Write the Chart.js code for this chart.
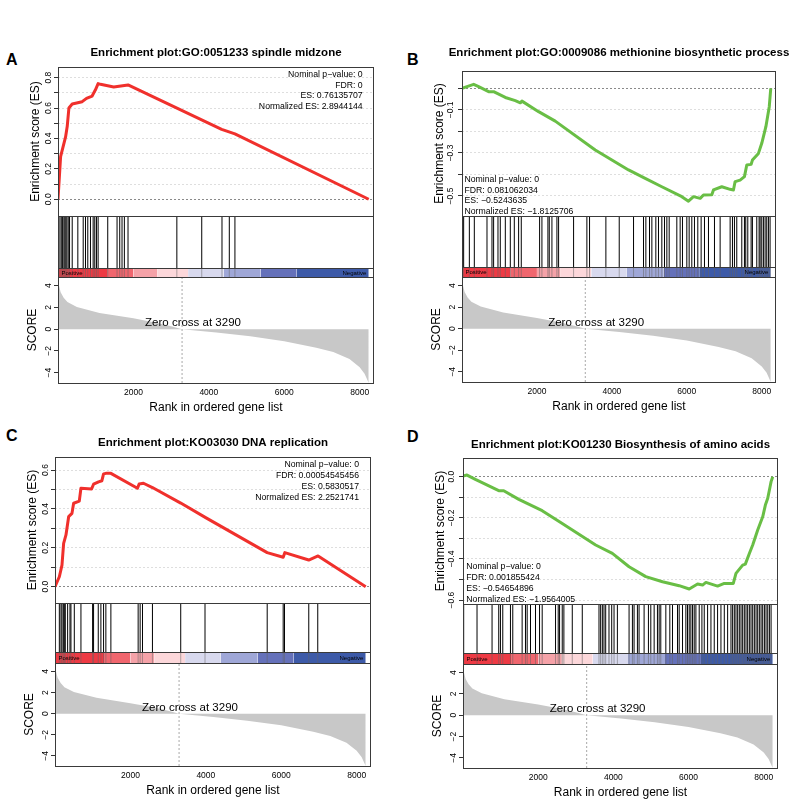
<!DOCTYPE html>
<html>
<head>
<meta charset="utf-8">
<script src="https://cdn.jsdelivr.net/npm/chart.js@4.4.1/dist/chart.umd.min.js"></script>
<style>
  html, body { margin: 0; padding: 0; background: #fff; overflow: hidden; }
  body { width: 790px; height: 799px; position: relative; font-family: "Liberation Sans", Arial, sans-serif; }
  canvas { position: absolute; }
  .tag { position: absolute; font-weight: bold; font-size: 16px; line-height: 16px; color: #000; }
</style>
</head>
<body>
<div class="tag" style="left:6px;top:52px">A</div>
<div class="tag" style="left:407px;top:52px">B</div>
<div class="tag" style="left:6px;top:428px">C</div>
<div class="tag" style="left:407px;top:429px">D</div>
<script>
// ---- shared ranked list (same for all four plots) ----
const rankTicks = [2000, 4000, 6000, 8000];
const rankLabels = ['2000', '4000', '6000', '8000'];
const scoreTicks = [-4, -2, 0, 2, 4];
const scoreLabels = ['\u22124', '\u22122', '0', '2', '4'];
const scoreRank = [0, 20, 70, 150, 250, 500, 1100, 2000, 2600, 3000, 3290, 4200, 5100, 6000, 6850, 7300, 7730, 8000, 8130, 8240];
const scoreValue = [4.7, 4.1, 3.4, 2.9, 2.5, 2.05, 1.5, 1.0, 0.6, 0.28, 0, -0.3, -0.66, -1.1, -1.7, -2.1, -2.75, -3.5, -4.1, -4.95];
const zeroCross = 3290;
const listEnd = 8240;
const barEdges = [0, 1300, 2000, 2630, 3450, 4390, 5375, 6330, 8240];
const barColors = ['#ee3a44', '#f0666e', '#f5a2a8', '#fcd7da', '#d8d9ee', '#9fa7d7', '#6571ba', '#3d5aa8'];

// ---- A: GO:0051233 spindle midzone ----
const titleA = 'Enrichment plot:GO:0051233 spindle midzone';
const esRankA = [0, 69, 201, 245, 289, 377, 641, 756, 905, 993, 1064, 1126, 1478, 1857, 4340, 4692, 8240];
const esValueA = [0, 0.28, 0.41, 0.48, 0.60, 0.627, 0.642, 0.664, 0.679, 0.72, 0.761, 0.756, 0.739, 0.752, 0.46, 0.43, 0];
const hitsA = [51, 87, 122, 157, 183, 209, 236, 271, 306, 377, 526, 668, 729, 790, 861, 932, 975, 1020, 1064, 1319,
  1566, 1637, 1698, 1760, 1857, 3152, 3812, 4349, 4543, 4692];
const esTicksA = [0, 0.1, 0.2, 0.3, 0.4, 0.5, 0.6, 0.7, 0.8];
const esLabelsA = ['0.0', '', '0.2', '', '0.4', '', '0.6', '', '0.8'];
const statsA = ['Nominal p\u2212value: 0', 'FDR: 0', 'ES: 0.76135707', 'Normalized ES: 2.8944144'];

// ---- B: GO:0009086 methionine biosynthetic process ----
const titleB = 'Enrichment plot:GO:0009086 methionine biosynthetic process';
const esRankB = [0, 133, 311, 444, 711, 844, 1156, 1422, 1556, 1600, 2044, 2489, 3556, 4444, 4889, 5333, 5867, 6044,
  6178, 6356, 6444, 6667, 6711, 6933, 7156, 7244, 7289, 7422, 7538, 7600, 7716, 7751, 7911, 8000, 8110, 8200, 8240];
const esValueB = [0, 0.008, 0.019, 0.008, -0.015, -0.015, -0.042, -0.057, -0.067, -0.059, -0.108, -0.152, -0.286, -0.379,
  -0.418, -0.457, -0.503, -0.524, -0.503, -0.511, -0.495, -0.494, -0.472, -0.457, -0.469, -0.472, -0.433, -0.426, -0.41,
  -0.356, -0.353, -0.333, -0.302, -0.255, -0.178, -0.085, 0];
const hitsB = [44, 196, 329, 667, 800, 844, 960, 1022, 1156, 1289, 1396, 1511, 1582, 2071, 2133, 2293, 2329, 2400, 2533,
  2578, 2978, 3333, 3404, 3840, 4196, 4578, 4844, 4907, 5004, 5067, 5173, 5244, 5333, 5404, 5467, 5529, 5733, 5822,
  5884, 6000, 6062, 6133, 6204, 6293, 6382, 6471, 6578, 6738, 6889, 7156, 7218, 7271, 7333, 7467, 7538, 7573, 7627,
  7716, 7751, 7867, 7929, 7956, 8000, 8044, 8089, 8133, 8178, 8222];
const esTicksB = [-0.5, -0.4, -0.3, -0.2, -0.1, 0];
const esLabelsB = ['\u22120.5', '', '\u22120.3', '', '\u22120.1', ''];
const statsB = ['Nominal p\u2212value: 0', 'FDR: 0.081062034', 'ES: \u22120.5243635', 'Normalized ES: \u22121.8125706'];

// ---- C: KO03030 DNA replication ----
const titleC = 'Enrichment plot:KO03030 DNA replication';
const esRankC = [0, 115, 185, 229, 291, 362, 450, 494, 644, 688, 970, 1023, 1155, 1244, 1288, 1349, 1482, 2187, 2231,
  2346, 2584, 3334, 3995, 5627, 6051, 6094, 6729, 6977, 8240];
const esValueC = [0, 0.051, 0.111, 0.223, 0.266, 0.36, 0.377, 0.429, 0.44, 0.506, 0.503, 0.527, 0.539, 0.545, 0.58,
  0.583, 0.583, 0.506, 0.528, 0.532, 0.51, 0.43, 0.355, 0.175, 0.151, 0.175, 0.137, 0.158, 0];
const hitsC = [115, 159, 185, 221, 247, 273, 335, 397, 423, 512, 688, 997, 1023, 1147, 1217, 1288, 1349, 1482, 2205,
  2258, 2320, 2584, 3334, 3978, 5627, 6051, 6086, 6730, 6968];
const esTicksC = [0, 0.1, 0.2, 0.3, 0.4, 0.5, 0.6];
const esLabelsC = ['0.0', '', '0.2', '', '0.4', '', '0.6'];
const statsC = ['Nominal p\u2212value: 0', 'FDR: 0.00054545456', 'ES: 0.5830517', 'Normalized ES: 2.2521741'];

// ---- D: KO01230 Biosynthesis of amino acids ----
const titleD = 'Enrichment plot:KO01230 Biosynthesis of amino acids';
const esRankD = [0, 107, 329, 951, 1084, 1484, 2107, 2640, 3529, 3973, 4418, 4862, 5307, 5751, 6018, 6240, 6373, 6462,
  6773, 6951, 7191, 7262, 7440, 7511, 7618, 7707, 7840, 7973, 8044, 8107, 8169, 8196, 8240];
const esValueD = [0.003, 0.008, -0.013, -0.068, -0.068, -0.11, -0.165, -0.227, -0.332, -0.373, -0.438, -0.486, -0.511,
  -0.53, -0.546, -0.522, -0.527, -0.514, -0.532, -0.519, -0.519, -0.47, -0.43, -0.425, -0.373, -0.332, -0.259, -0.195,
  -0.138, -0.105, -0.049, -0.024, 0];
const hitsD = [18, 373, 773, 951, 996, 1058, 1262, 1324, 1573, 1662, 1707, 1796, 1929, 2036, 2107, 2462, 2533, 2569,
  2640, 2684, 2907, 3173, 3618, 3662, 3707, 3751, 3796, 3884, 3956, 4018, 4107, 4418, 4507, 4551, 4640, 4684, 4818,
  4933, 4996, 5085, 5173, 5218, 5262, 5396, 5502, 5573, 5707, 5751, 5840, 5929, 5973, 6018, 6062, 6107, 6151, 6196,
  6284, 6356, 6418, 6507, 6596, 6684, 6773, 6862, 6951, 7040, 7129, 7173, 7218, 7262, 7307, 7351, 7396, 7440, 7484,
  7529, 7573, 7618, 7662, 7707, 7751, 7796, 7840, 7884, 7929, 7973, 8018, 8062, 8107, 8151, 8196];
const esTicksD = [-0.6, -0.5, -0.4, -0.3, -0.2, -0.1, 0];
const esLabelsD = ['\u22120.6', '', '\u22120.4', '', '\u22120.2', '', '0.0'];
const statsD = ['Nominal p\u2212value: 0', 'FDR: 0.001855424', 'ES: \u22120.54654896', 'Normalized ES: \u22121.9564005'];

// ---- layout ----
const AXIS_W = 58;
const XAXIS_H = 33;
const RANK_MAX = 8380;
const SCORE_MIN = -4.95;
const SCORE_MAX = 4.8;
const RED = '#f0302c';
const GREEN = '#69be45';

const panels = [
  { title: titleA, esRank: esRankA, esValue: esValueA, hits: hitsA, esTicks: esTicksA, esLabels: esLabelsA, stats: statsA,
    color: RED, esMin: -0.11, esMax: 0.87, plotLeft: 58, plotRight: 374, titleY: 53, esTop: 67, esBottom: 216,
    hitBottom: 268, barBottom: 277, scoreBottom: 383, statsPos: 'tr', statsDx: 11.3, statsDy: 7.3 },
  { title: titleB, esRank: esRankB, esValue: esValueB, hits: hitsB, esTicks: esTicksB, esLabels: esLabelsB, stats: statsB,
    color: GREEN, esMin: -0.593, esMax: 0.081, plotLeft: 462, plotRight: 776, titleY: 53, esTop: 71, esBottom: 216,
    hitBottom: 267, barBottom: 277, scoreBottom: 382, statsPos: 'bl', statsDx: 2.5, statsDy: 4 },
  { title: titleC, esRank: esRankC, esValue: esValueC, hits: hitsC, esTicks: esTicksC, esLabels: esLabelsC, stats: statsC,
    color: RED, esMin: -0.084, esMax: 0.667, plotLeft: 55, plotRight: 371, titleY: 443, esTop: 457, esBottom: 603,
    hitBottom: 652, barBottom: 663, scoreBottom: 766, statsPos: 'tr', statsDx: 12, statsDy: 7.6 },
  { title: titleD, esRank: esRankD, esValue: esValueD, hits: hitsD, esTicks: esTicksD, esLabels: esLabelsD, stats: statsD,
    color: GREEN, esMin: -0.619, esMax: 0.091, plotLeft: 463, plotRight: 778, titleY: 445, esTop: 458, esBottom: 604,
    hitBottom: 653, barBottom: 664, scoreBottom: 768, statsPos: 'bl', statsDx: 3.3, statsDy: 4.7 }
];

Chart.defaults.font.family = '"Liberation Sans", Arial, sans-serif';
Chart.defaults.color = '#000';

// boxes around each strip plus the small texts
const gseaDecor = {
  id: 'gseaDecor',
  afterDatasetsDraw(chart, args, opts) {
    const { ctx, chartArea: ca, scales } = chart;
    const x = scales.x;
    ctx.save();

    // Positive / Negative
    const bar = scales.yBar;
    ctx.fillStyle = '#000';
    ctx.font = '6px "Liberation Sans", Arial, sans-serif';
    ctx.textBaseline = 'middle';
    ctx.textAlign = 'left';
    ctx.fillText('Positive', ca.left + 3.5, (bar.top + bar.bottom) / 2 + 0.5);
    ctx.textAlign = 'right';
    ctx.fillText('Negative', x.getPixelForValue(listEnd) - 2.5, (bar.top + bar.bottom) / 2 + 0.5);

    // Zero cross label
    ctx.font = '11.5px "Liberation Sans", Arial, sans-serif';
    ctx.textAlign = 'center';
    ctx.fillText('Zero cross at ' + zeroCross, x.getPixelForValue(3580), scales.yScore.getPixelForValue(0.58));

    // statistics
    const es = scales.yES;
    const lh = 10.9;
    ctx.font = '8.7px "Liberation Sans", Arial, sans-serif';
    opts.stats.forEach((line, i) => {
      if (opts.pos === 'tr') {
        ctx.textAlign = 'right';
        ctx.fillText(line, ca.right - opts.dx, es.top + opts.dy + i * lh);
      } else {
        ctx.textAlign = 'left';
        ctx.fillText(line, ca.left + opts.dx, es.bottom - opts.dy - (opts.stats.length - 1 - i) * lh);
      }
    });

    // frames
    ctx.strokeStyle = '#3a3a3a';
    ctx.lineWidth = 1;
    ['yES', 'yHit', 'yBar', 'yScore'].forEach(id => {
      const s = scales[id];
      const l = Math.round(ca.left) + 0.5;
      const t = Math.round(s.top) + 0.5;
      ctx.strokeRect(l, t, Math.round(ca.right) - Math.round(ca.left) - 1, Math.round(s.bottom) - Math.round(s.top));
    });
    ctx.restore();
  }
};

function fixWidth(axis) { axis.width = AXIS_W; }

function makePanel(p) {
  const canvasLeft = p.plotLeft - AXIS_W;
  const canvasTop = Math.round(p.titleY - 11);
  const width = p.plotLeft + p.plotRight - 2 * canvasLeft;
  const height = p.scoreBottom - canvasTop + XAXIS_H;
  const canvas = document.createElement('canvas');
  canvas.width = width;
  canvas.height = height;
  canvas.style.left = canvasLeft + 'px';
  canvas.style.top = canvasTop + 'px';
  canvas.style.width = width + 'px';
  canvas.style.height = height + 'px';
  document.body.appendChild(canvas);

  const esData = p.esRank.map((r, i) => ({ x: r, y: p.esValue[i] }));
  const hitData = [];
  p.hits.forEach(r => { hitData.push({ x: r, y: 0 }, { x: r, y: 1 }, { x: r, y: null }); });
  const scoreData = scoreRank.map((r, i) => ({ x: r, y: scoreValue[i] }));
  const barSets = barColors.map((c, i) => ({
    data: [{ x: barEdges[i], y: 1 }, { x: barEdges[i + 1], y: 1 }],
    yAxisID: 'yBar', fill: 'origin', backgroundColor: c, borderColor: 'rgba(0,0,0,0)', borderWidth: 0
  }));

  const titlePadTop = p.titleY - 6.9 - canvasTop;
  const titlePadBottom = p.esTop - p.titleY - 6.9;

  new Chart(canvas, {
    type: 'line',
    data: {
      datasets: [
        { data: esData, yAxisID: 'yES', borderColor: p.color, borderWidth: 3, borderJoinStyle: 'round' },
        { data: hitData, yAxisID: 'yHit', borderColor: '#000', borderWidth: 1, spanGaps: false },
        { data: hitData, yAxisID: 'yBar', borderColor: 'rgba(100,100,100,0.5)', borderWidth: 1, spanGaps: false },
        ...barSets,
        { data: [{ x: zeroCross, y: SCORE_MIN }, { x: zeroCross, y: SCORE_MAX }], yAxisID: 'yScore',
          borderColor: '#a8a8a8', borderWidth: 1, borderDash: [2, 2] },
        { data: scoreData, yAxisID: 'yScore', fill: 'origin', backgroundColor: '#c8c8c8',
          borderColor: 'rgba(0,0,0,0)', borderWidth: 0 }
      ]
    },
    options: {
      responsive: false,
      animation: false,
      devicePixelRatio: 1,
      events: [],
      elements: { point: { radius: 0 }, line: { tension: 0 } },
      layout: { padding: 0 },
      plugins: {
        legend: { display: false },
        tooltip: { enabled: false },
        title: {
          display: true, text: p.title, color: '#000',
          font: { size: 11.5, weight: 'bold' },
          padding: { top: titlePadTop, bottom: titlePadBottom }
        },
        gseaDecor: { stats: p.stats, pos: p.statsPos, dx: p.statsDx, dy: p.statsDy }
      },
      scales: {
        x: {
          type: 'linear', position: 'bottom', min: 0, max: RANK_MAX,
          afterBuildTicks: a => { a.ticks = rankTicks.map(v => ({ value: v })); },
          afterFit: a => { a.height = XAXIS_H; },
          ticks: { callback: (v, i) => rankLabels[i], font: { size: 8.5 }, color: '#000', padding: 5,
                   maxRotation: 0, autoSkip: false },
          grid: { display: false, drawTicks: false, offset: false },
          border: { display: false },
          title: { display: true, text: 'Rank in ordered gene list', font: { size: 12 }, color: '#000',
                   padding: { top: 1, bottom: 1.5 } }
        },
        yES: {
          type: 'linear', position: 'left', stack: 'gsea', stackWeight: p.esBottom - p.esTop, weight: 4,
          min: p.esMin, max: p.esMax,
          afterBuildTicks: a => { a.ticks = p.esTicks.map(v => ({ value: v })); },
          afterFit: fixWidth,
          ticks: { callback: (v, i) => p.esLabels[i], minRotation: 90, maxRotation: 90, crossAlign: 'center',
                   padding: -1, font: { size: 8.5 }, color: '#000', autoSkip: false },
          grid: {
            color: c => (c.tick && Math.abs(c.tick.value) < 1e-9) ? '#8a8a8a' : '#dedede',
            tickColor: '#333', tickLength: 4, tickBorderDash: [], lineWidth: 1
          },
          border: { display: false, dash: [2, 2] },
          title: { display: true, text: 'Enrichment score (ES)', font: { size: 12 }, color: '#000',
                   padding: { top: AXIS_W - 22 - 7.2, bottom: 0 } }
        },
        yHit: {
          type: 'linear', position: 'left', stack: 'gsea', stackWeight: p.hitBottom - p.esBottom, weight: 3,
          min: 0, max: 1, afterFit: fixWidth,
          ticks: { display: false }, grid: { display: false, drawTicks: false }, border: { display: false }
        },
        yBar: {
          type: 'linear', position: 'left', stack: 'gsea', stackWeight: p.barBottom - p.hitBottom, weight: 2,
          min: 0, max: 1, afterFit: fixWidth,
          ticks: { display: false }, grid: { display: false, drawTicks: false }, border: { display: false }
        },
        yScore: {
          type: 'linear', position: 'left', stack: 'gsea', stackWeight: p.scoreBottom - p.barBottom, weight: 1,
          min: SCORE_MIN, max: SCORE_MAX,
          afterBuildTicks: a => { a.ticks = scoreTicks.map(v => ({ value: v })); },
          afterFit: fixWidth,
          ticks: { callback: (v, i) => scoreLabels[i], minRotation: 90, maxRotation: 90, crossAlign: 'center',
                   padding: 0, font: { size: 8.5 }, color: '#000', autoSkip: false },
          grid: { drawOnChartArea: false, tickColor: '#333', tickLength: 4 },
          border: { display: false },
          title: { display: true, text: 'SCORE', font: { size: 12 }, color: '#000',
                   padding: { top: AXIS_W - 25.5 - 7.2, bottom: 0 } }
        },
        // empty right-hand gutter so the title centres over the plot, as in R
        yGutter: {
          type: 'linear', position: 'right', min: 0, max: 1, afterFit: fixWidth,
          ticks: { display: false }, grid: { display: false, drawTicks: false }, border: { display: false }
        }
      }
    },
    plugins: [gseaDecor]
  });
}

panels.forEach(makePanel);
</script>
</body>
</html>
